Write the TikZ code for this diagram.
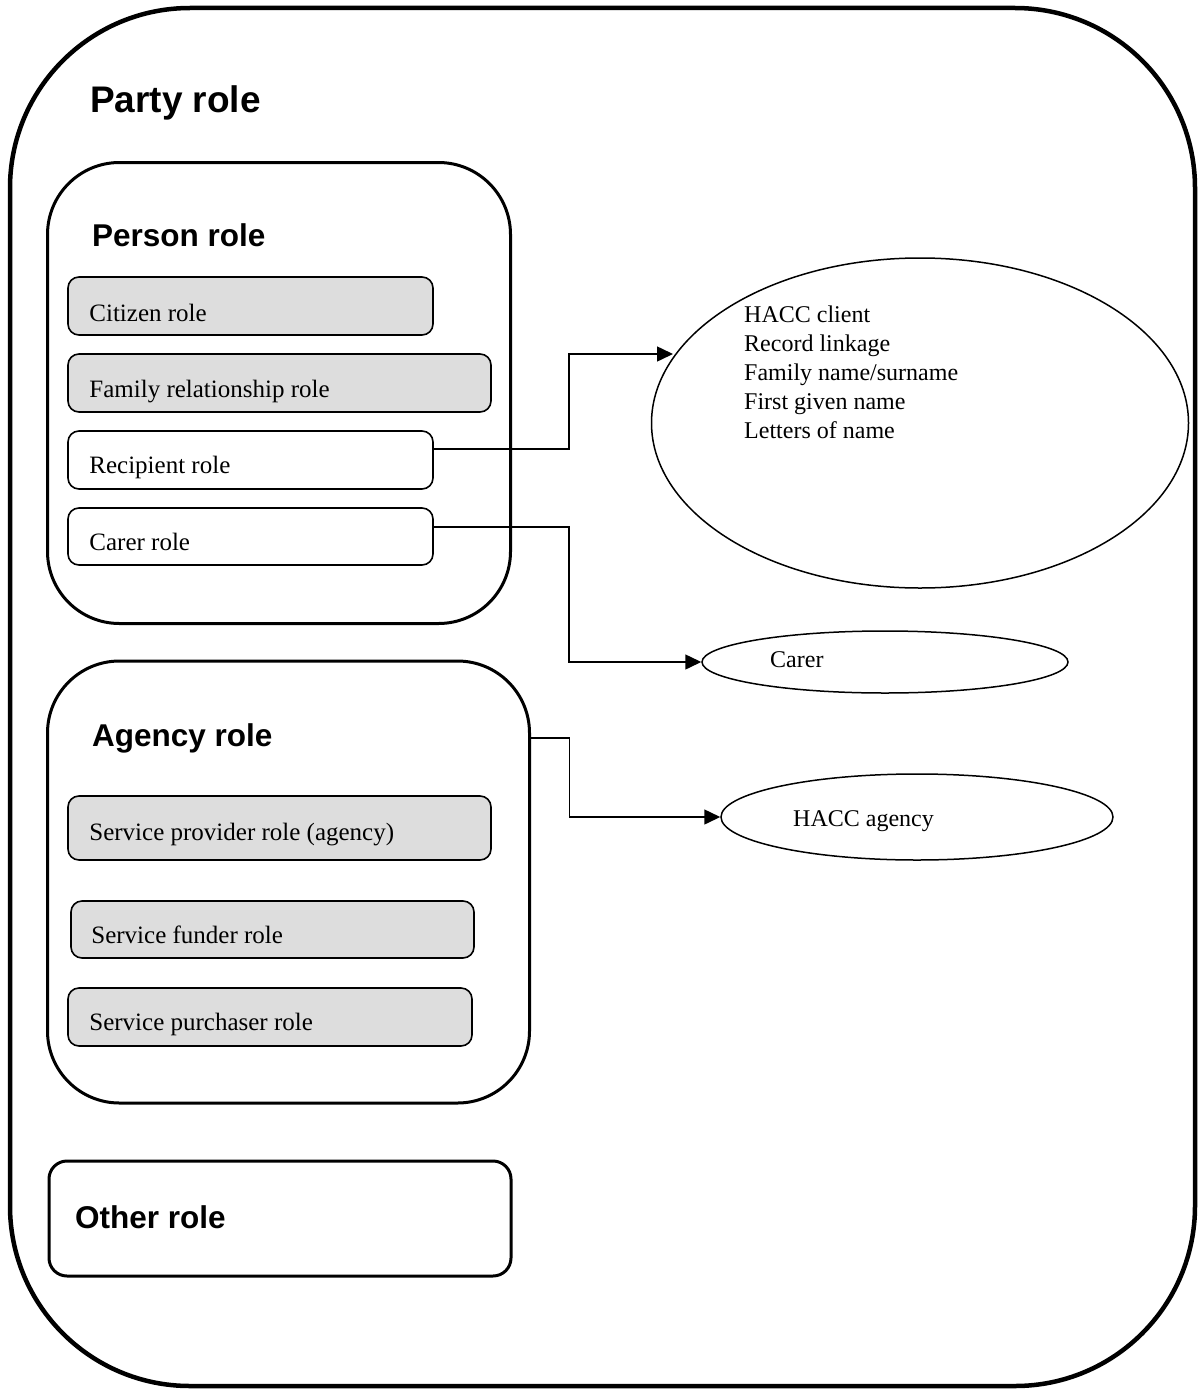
\documentclass[tikz,border=0pt]{standalone}
\usepackage{fontspec}
\setmainfont{Liberation Serif}
\newfontfamily\headfont{Liberation Sans}
\usetikzlibrary{shapes.geometric,arrows.meta}

\definecolor{rolegray}{HTML}{DDDDDD}

\begin{document}
\begin{tikzpicture}[x=1pt,y=-1pt]
\tikzset{OuterStyle/.style =
	{draw, line width=4.5pt, rounded corners=180pt, inner sep=0pt},
	GroupStyle/.style =
	{draw, line width=3pt, rounded corners=72pt, inner sep=0pt},
	RoleStyle/.style =
	{draw, line width=1.6pt, rounded corners=11pt, inner sep=0pt,
		minimum height=58pt},
	RoleText/.style = {anchor=base west, inner sep=0pt,
		font=\fontsize{25}{30}\selectfont},
	HeadText/.style = {anchor=base west, inner sep=0pt,
		font=\headfont\bfseries\fontsize{31.5}{36}\selectfont},
	DataStyle/.style = {draw, ellipse, line width=1.5pt, inner sep=0pt},
	DataText/.style = {anchor=base west, inner sep=0pt,
		font=\fontsize{24}{29}\selectfont},
	Link/.style = {line width=1.5pt, -{Triangle[length=16pt,width=15pt]}}}
\useasboundingbox (0,0) rectangle (1197,1389);

% party role
\node[OuterStyle, minimum width=1185pt, minimum height=1378pt] (party) at (602.5,697) {};
\node[HeadText, font=\headfont\bfseries\fontsize{37}{42}\selectfont] (partytxt) at (90,112) {Party role};

% person role
\node[GroupStyle, minimum width=463pt, minimum height=461pt] (person) at (279,393) {};
\node[HeadText] (persontxt) at (92,246) {Person role};
\node[RoleStyle, fill=rolegray, minimum width=365pt] (citizen) at (250.5,306) {};
\node[RoleText] at ([xshift=22pt,yshift=-15pt]citizen.west) {Citizen role};
\node[RoleStyle, fill=rolegray, minimum width=423pt] (family) at (279.5,383) {};
\node[RoleText] at ([xshift=22pt,yshift=-14pt]family.west) {Family relationship role};
\node[RoleStyle, minimum width=365pt] (recipient) at (250.5,460) {};
\node[RoleText] at ([xshift=22pt,yshift=-13pt]recipient.west) {Recipient role};
\node[RoleStyle, minimum width=365pt, minimum height=57pt] (carer) at (250.5,536.5) {};
\node[RoleText] at ([xshift=22pt,yshift=-14pt]carer.west) {Carer role};

% agency role
\node[GroupStyle, minimum width=482pt, minimum height=442pt] (agency) at (288.5,882) {};
\node[HeadText] (agencytxt) at (92,746) {Agency role};
\node[RoleStyle, fill=rolegray, minimum width=423pt, minimum height=64pt] (provider) at (279.5,828) {};
\node[RoleText] at ([xshift=22pt,yshift=-12pt]provider.west) {Service provider role (agency)};
\node[RoleStyle, fill=rolegray, minimum width=403pt, minimum height=57pt] (funder) at (272.5,929.5) {};
\node[RoleText] at ([xshift=21pt,yshift=-13.5pt]funder.west) {Service funder role};
\node[RoleStyle, fill=rolegray, minimum width=404pt] (purchaser) at (270,1017) {};
\node[RoleText] at ([xshift=22pt,yshift=-13pt]purchaser.west) {Service purchaser role};

% other role
\node[draw, line width=3pt, rounded corners=18pt, minimum width=462pt, minimum height=115pt] (other) at (280,1218.5) {};
\node[HeadText] (othertxt) at (75,1228) {Other role};

% data items
\node[DataStyle, minimum width=537pt, minimum height=330pt] (client) at (920,423) {};
\node[DataText] (line1) at (744,322) {HACC client};
\node[DataText] (line2) at (744,351) {Record linkage};
\node[DataText] (line3) at (744,380) {Family name/surname};
\node[DataText] (line4) at (744,409) {First given name};
\node[DataText] (line5) at (744,438) {Letters of name};
\node[DataStyle, minimum width=366pt, minimum height=62pt] (carerdata) at (885,662) {};
\node[DataText] (carertxt) at (770,667) {Carer};
\node[DataStyle, minimum width=392pt, minimum height=86pt] (haccagency) at (917,817) {};
\node[DataText] (haccagencytxt) at (793,826) {HACC agency};

% links
\coordinate (clientin) at (673,354);
\draw[Link] ([yshift=11pt]recipient.east) -- ++(135,0) |- (clientin);
\draw[Link] ([yshift=9.5pt]carer.east) -- ++(135,0) |- (carerdata.west);
\draw[Link] ([yshift=144pt]agency.east) -- ++(38.5,0) |- (haccagency.west);
\end{tikzpicture}
\end{document}
